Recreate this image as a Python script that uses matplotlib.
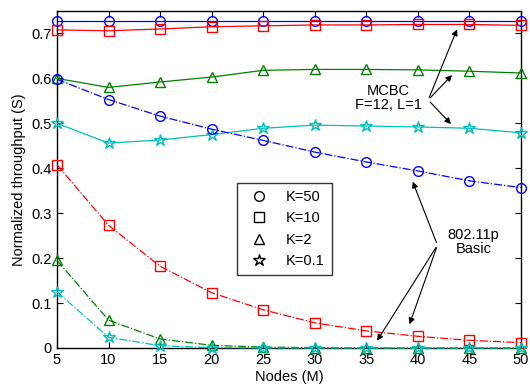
import matplotlib
matplotlib.use("Agg")
import matplotlib.pyplot as plt
from matplotlib.lines import Line2D

plt.rcParams['font.family'] = ['Liberation Sans', 'DejaVu Sans']

nodes = [5, 10, 15, 20, 25, 30, 35, 40, 45, 50]

# MCBC (F=12, L=1)
mcbc_k50 = [0.728, 0.728, 0.728, 0.728, 0.728, 0.728, 0.728, 0.728, 0.728, 0.728]
mcbc_k10 = [0.708, 0.706, 0.710, 0.715, 0.717, 0.719, 0.719, 0.720, 0.720, 0.718]
mcbc_k2 = [0.600, 0.580, 0.592, 0.603, 0.618, 0.620, 0.620, 0.619, 0.616, 0.612]
mcbc_k01 = [0.500, 0.456, 0.463, 0.475, 0.489, 0.496, 0.494, 0.492, 0.489, 0.479]

# 802.11p Basic
basic_k50 = [0.598, 0.553, 0.516, 0.487, 0.462, 0.436, 0.414, 0.394, 0.372, 0.357]
basic_k10 = [0.408, 0.273, 0.182, 0.123, 0.085, 0.056, 0.038, 0.026, 0.017, 0.012]
basic_k2 = [0.195, 0.062, 0.020, 0.006, 0.002, 0.001, 0.0, 0.0, 0.0, 0.0]
basic_k01 = [0.125, 0.024, 0.005, 0.001, 0.0, 0.0, 0.0, 0.0, 0.0, 0.0]

legend_labels = ['K=50', 'K=10', 'K=2', 'K=0.1']
markers = ['o', 's', '^', '*']
colores = ['#0000ff', '#ff0000', '#008000', '#00bfbf']

fig = plt.figure(figsize=(5.30, 3.89), dpi=100)
ax = fig.add_axes([0.1075, 0.1054, 0.8755, 0.8663])

mcbc = [mcbc_k50, mcbc_k10, mcbc_k2, mcbc_k01]
basic = [basic_k50, basic_k10, basic_k2, basic_k01]

for datos, m, c in zip(mcbc, markers, colores):
    ms = 9 if m == '*' else 7
    ax.plot(nodes, datos, '-', color=c, marker=m, markersize=ms, mfc='none',
            mec=c, lw=0.9, clip_on=False, zorder=3)
for datos, m, c in zip(basic, markers, colores):
    ms = 9 if m == '*' else 7
    ax.plot(nodes, datos, '-.', color=c, marker=m, markersize=ms, mfc='none',
            mec=c, lw=0.9, clip_on=False, zorder=3)

ax.set_xlim(5, 50)
ax.set_ylim(0, 0.75)
ax.set_xticks(nodes)
ax.set_yticks([0, 0.1, 0.2, 0.3, 0.4, 0.5, 0.6, 0.7])
ax.set_yticklabels(['0', '0.1', '0.2', '0.3', '0.4', '0.5', '0.6', '0.7'])
ax.tick_params(direction='in', top=True, right=True, labelsize=10.5, length=4)
for s in ax.spines.values():
    s.set_linewidth(1.0)

ax.set_xlabel('Nodes (M)', fontsize=10.5, labelpad=2)
ax.set_ylabel('Normalized throughput (S)', fontsize=10.5, labelpad=4)

# Leyenda solo con marcadores negros
handles = [Line2D([], [], ls='none', marker=m, mfc='none', mec='k',
                  markersize=9 if m == '*' else 7) for m in markers]
leg = ax.legend(handles, legend_labels, loc='upper left',
                bbox_to_anchor=(0.389, 0.49), borderaxespad=0, fontsize=10.5,
                frameon=True, fancybox=False, edgecolor='k', handlelength=2.0,
                labelspacing=0.5, borderpad=0.5, handletextpad=0.8)
leg.get_frame().set_linewidth(1.0)

# Anotaciones
arrow = dict(arrowstyle='-|>', color='k', lw=0.8, mutation_scale=9)
ax.text(37.1, 0.556, 'MCBC\nF=12, L=1', ha='center', va='center',
        fontsize=10.5, linespacing=1.0)
for tip in [(43.9, 0.715), (43.5, 0.612), (43.4, 0.494)]:
    ax.annotate('', xy=tip, xytext=(41.0, 0.552), arrowprops=arrow)

ax.text(45.4, 0.237, '802.11p\nBasic', ha='center', va='center',
        fontsize=10.5, linespacing=1.0)
for tip in [(39.4, 0.376), (35.9, 0.011), (39.1, 0.047)]:
    ax.annotate('', xy=tip, xytext=(41.9, 0.229), arrowprops=arrow)

fig.savefig('out.png', dpi=100)
